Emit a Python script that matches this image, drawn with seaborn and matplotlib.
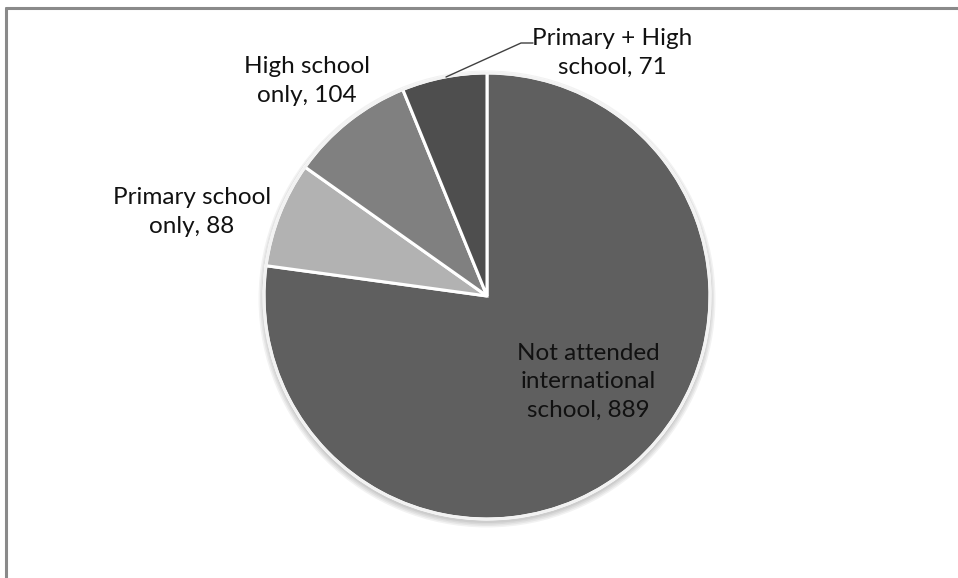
import matplotlib
matplotlib.use("Agg")
import matplotlib.pyplot as plt
import seaborn as sns
from matplotlib.lines import Line2D
from matplotlib.patches import Circle

categories = ["Not attended\ninternational\nschool", "Primary school\nonly", "High school\nonly", "Primary + High\nschool"]
values = [889, 88, 104, 71]
colors = ["#5f5f5f", "#b2b2b2", "#808080", "#4e4e4e"]

sns.set_theme(style="white")
plt.rcParams['font.family'] = ['Lato', 'DejaVu Sans']

W, H = 958, 578
fig = plt.figure(figsize=(W / 100, H / 100), dpi=100)
ax = fig.add_axes([0, 0, 1, 1])
ax.set_xlim(0, W)
ax.set_ylim(0, H)
ax.set_aspect('equal')
ax.axis('off')

cx, cy, r = 487, H - 296, 223

# soft shadow
for i, a in enumerate([0.05, 0.05, 0.05, 0.05]):
    ax.add_patch(Circle((cx, cy - 3), r + 1 + i * 1.5, color="black", alpha=a, lw=0, zorder=0))

wedges, _ = ax.pie(values, colors=colors, startangle=90, counterclock=False,
                   center=(cx, cy), radius=r, frame=True,
                   wedgeprops=dict(edgecolor="white", linewidth=2.2))
ax.add_patch(Circle((cx, cy), r, fill=False, edgecolor="#f2f2f2", lw=2, zorder=3))
ax.set_xlim(0, W)
ax.set_ylim(0, H)
ax.axis('off')

# label positions (pixels from top)
label_pos = [(588, 382), (192, 212), (307, 81), (612, 53)]
for cat, v, (px, py) in zip(categories, values, label_pos):
    ax.text(px, H - py, f"{cat}, {v}", ha="center", va="center", fontsize=17.5,
            color="#111111", linespacing=1.42, zorder=5)

# leader line for small slice
ax.plot([446, 521, 533], [H - 77, H - 43, H - 43], color="#404040", lw=1, zorder=5)

# chart frame (top and left)
fig.add_artist(Line2D([6 / W, 1], [1 - 8 / H, 1 - 8 / H], transform=fig.transFigure, color="#8a8a8a", lw=2.2))
fig.add_artist(Line2D([6 / W, 6 / W], [0, 1 - 8 / H], transform=fig.transFigure, color="#8a8a8a", lw=2.2))

fig.savefig("out.png", dpi=100, facecolor="white")
